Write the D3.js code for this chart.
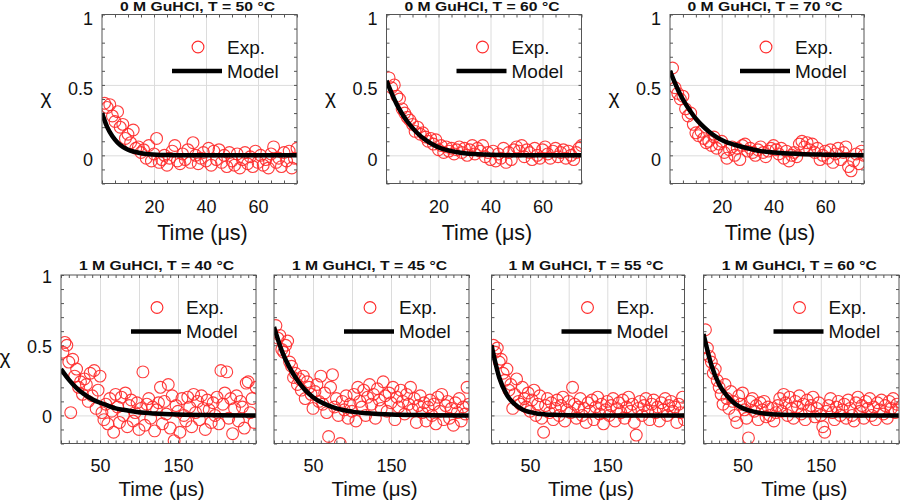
<!DOCTYPE html>
<html>
<head>
<meta charset="utf-8">
<script src="https://cdn.jsdelivr.net/npm/d3@7"></script>
<style>
  html, body { margin: 0; padding: 0; background: #fff; }
  svg { display: block; font-family: "Liberation Sans", Arial, Helvetica, sans-serif; }
</style>
</head>
<body>
<svg id="chart" width="900" height="503"></svg>
<script>
// ---------------- DATA ----------------
const titles = [
  "0 M GuHCl, T = 50 °C", "0 M GuHCl, T = 60 °C", "0 M GuHCl, T = 70 °C",
  "1 M GuHCl, T = 40 °C", "1 M GuHCl, T = 45 °C", "1 M GuHCl, T = 55 °C", "1 M GuHCl, T = 60 °C"
];
const legendLabels = ["Exp.", "Model"];
const xAxisLabel = "Time (\u03BCs)";
const yAxisLabel = "\u03C7";

// sample times (µs)
const timesTop = [1,2,3,4,5,6,7,8,9,10,11,12,13,14,15,16,17,18,19,20,21,22,23,24,25,26,27,28,29,30,
  31,32,33,34,35,36,37,38,39,40,41,42,43,44,45,46,47,48,49,50,51,52,53,54,55,56,57,58,59,60,
  61,62,63,64,65,66,67,68,69,70,71,72,73,74,75];
const timesBottom = [2.5,5,7.5,10,12.5,15,17.5,20,22.5,25,27.5,30,32.5,35,37.5,40,42.5,45,47.5,50,
  52.5,55,57.5,60,62.5,65,67.5,70,72.5,75,77.5,80,82.5,85,87.5,90,92.5,95,97.5,100,
  102.5,105,107.5,110,112.5,115,117.5,120,122.5,125,127.5,130,132.5,135,137.5,140,142.5,145,147.5,150,
  152.5,155,157.5,160,162.5,165,167.5,170,172.5,175,177.5,180,182.5,185,187.5,190,192.5,195,197.5,200,
  202.5,205,207.5,210,212.5,215,217.5,220,222.5,225,227.5,230,232.5,235,237.5,240,242.5,245,247.5,250];

// experimental chi values
const exp0M50 = [0.37,0.34,0.36,0.28,0.24,0.31,0.20,0.22,0.12,0.15,
  0.09,0.18,0.05,0.06,0.02,0.04,-0.02,0.07,-0.04,0.01,
  0.12,-0.05,-0.03,0.00,-0.07,-0.02,0.03,0.07,-0.04,-0.06,
  0.01,-0.03,0.04,-0.05,0.09,0.00,-0.06,-0.02,0.02,-0.04,
  0.05,-0.07,0.03,-0.03,0.04,-0.05,0.00,-0.08,0.02,-0.04,
  -0.07,0.01,-0.09,-0.03,0.02,-0.06,-0.01,-0.08,0.03,-0.05,
  0.00,-0.07,-0.03,-0.09,0.01,0.06,-0.05,-0.02,-0.08,0.02,
  -0.04,0.03,-0.09,-0.02,0.05];
const exp0M60 = [0.55,0.48,0.50,0.42,0.40,0.33,0.30,0.27,0.25,0.22,
  0.17,0.20,0.15,0.16,0.13,0.10,0.12,0.08,0.11,0.04,
  0.07,0.02,0.06,0.03,0.05,0.01,0.04,0.06,0.02,0.05,
  0.00,0.04,0.07,0.01,0.05,0.03,0.07,-0.01,0.02,-0.03,
  0.03,-0.04,0.01,-0.02,0.05,-0.05,0.02,-0.03,0.04,0.06,
  0.03,0.07,-0.01,0.04,0.02,-0.03,0.05,0.00,-0.02,0.04,
  0.06,0.01,-0.02,0.03,0.05,-0.01,0.02,0.04,-0.02,0.03,
  0.00,-0.03,0.02,0.05,0.07];
const exp0M70 = [0.62,0.48,0.44,0.40,0.42,0.33,0.28,0.30,0.22,0.16,
  0.14,0.17,0.12,0.09,0.10,0.07,0.13,0.05,0.08,0.10,
  0.02,-0.02,0.04,0.06,0.00,0.05,-0.03,0.07,0.08,0.03,
  0.05,0.02,0.00,0.04,0.06,0.02,-0.01,0.03,0.05,0.07,
  0.04,0.01,0.05,-0.02,0.03,-0.04,0.00,0.02,-0.01,0.08,
  0.10,0.06,0.09,0.04,0.08,0.02,0.05,-0.03,0.00,0.03,
  -0.02,0.04,-0.05,0.01,0.05,-0.03,0.02,0.06,-0.08,-0.11,
  -0.04,0.01,-0.06,0.03,0.00];
const exp1M40 = [0.45,0.52,0.50,0.38,0.02,0.40,0.28,0.33,0.20,0.24,
  0.15,0.26,0.22,0.10,0.30,0.14,0.32,0.05,0.18,0.28,
  0.02,-0.03,0.08,-0.06,0.12,0.03,-0.12,0.15,0.06,-0.05,
  0.13,0.00,0.16,-0.08,0.07,0.11,-0.04,0.02,0.09,-0.10,
  0.05,0.31,-0.07,0.08,0.12,-0.02,0.06,-0.11,0.04,0.09,
  0.20,-0.06,0.10,0.01,0.22,-0.09,0.14,-0.18,0.07,0.03,
  -0.12,0.12,0.00,-0.04,0.13,0.06,-0.08,0.15,0.02,0.10,
  -0.03,0.14,0.05,-0.10,0.11,0.04,-0.05,0.09,0.00,0.13,
  -0.06,0.32,0.08,0.16,0.31,-0.02,0.12,-0.13,0.05,0.14,
  -0.04,0.10,0.06,-0.09,0.23,0.24,0.02,0.12,-0.05,0.20];
const exp1M45 = [0.64,0.55,0.57,0.47,0.45,0.50,0.53,0.38,0.35,0.27,
  0.30,0.22,0.26,0.18,0.28,0.12,0.24,0.20,0.15,0.05,
  0.17,0.22,0.10,0.28,0.08,0.16,0.02,-0.15,0.20,0.29,
  0.06,0.12,0.00,-0.20,0.10,0.04,0.14,-0.02,0.08,0.03,
  0.15,-0.04,0.20,0.10,0.06,0.18,0.00,0.13,0.22,0.08,
  0.15,-0.02,0.19,0.11,0.05,0.24,0.14,0.03,0.16,0.09,
  0.20,-0.03,0.13,0.06,0.18,0.10,0.01,0.15,0.08,0.20,
  0.04,0.12,-0.05,0.07,0.14,0.02,0.09,-0.04,0.06,0.11,
  0.00,0.08,-0.06,0.13,0.03,0.15,-0.03,0.07,0.10,-0.02,
  0.05,-0.07,0.09,0.02,0.12,-0.04,0.06,0.01,0.20,0.08];
const exp1M55 = [0.50,0.45,0.48,0.38,0.40,0.30,0.25,0.33,0.18,0.22,
  0.05,0.15,0.26,0.10,0.08,0.20,0.12,0.06,0.16,0.03,
  0.11,0.18,0.00,0.08,0.14,-0.02,-0.12,0.07,0.12,0.02,
  0.09,-0.03,0.05,0.11,0.00,0.07,0.13,-0.04,0.04,0.10,
  0.02,0.20,0.08,-0.02,0.06,0.12,0.00,0.05,-0.05,0.09,
  0.03,0.11,-0.03,0.06,0.13,0.01,0.08,-0.06,0.04,0.10,
  0.00,0.07,0.12,-0.04,0.05,0.09,0.02,0.11,-0.02,0.06,
  0.13,0.03,0.08,-0.05,-0.14,0.05,0.10,0.00,0.07,0.12,
  0.03,-0.03,0.08,0.11,0.02,0.06,-0.04,0.09,0.04,0.12,
  0.00,0.07,0.10,0.03,0.06,-0.05,0.08,0.02,0.13,-0.03];
const exp1M60 = [0.61,0.48,0.42,0.38,0.30,0.33,0.25,0.20,0.15,0.08,
  0.22,0.12,0.05,0.17,0.10,0.00,-0.05,0.14,0.08,0.16,
  0.04,-0.02,-0.16,0.10,0.12,0.03,0.07,-0.03,0.09,0.04,
  0.10,-0.01,0.06,0.00,0.05,-0.04,0.02,0.07,0.12,0.03,
  0.15,0.09,0.00,0.13,0.05,-0.02,0.10,0.06,0.14,0.01,
  0.08,-0.03,0.11,0.04,0.07,0.13,-0.01,0.05,0.09,0.00,
  -0.08,-0.12,0.03,0.07,0.12,0.02,-0.03,0.06,0.10,0.00,
  0.04,0.08,-0.02,0.11,0.05,0.00,-0.04,0.09,0.13,0.03,
  0.07,-0.02,0.10,0.05,0.12,0.00,0.06,-0.03,0.09,0.04,
  0.11,0.01,0.07,-0.02,0.10,0.05,0.12,0.02,0.08,0.04];
const expSeries = [exp0M50, exp0M60, exp0M70, exp1M40, exp1M45, exp1M55, exp1M60];

// model curves
const modelTimesTop = [0,2,4,6,8,10,12,15,18,21,25,30,35,40,50,60,75];
const modelTimesBottom = [0,10,20,30,40,50,60,70,80,100,120,150,200,250];
const model0M50 = [0.30,0.20,0.135,0.09,0.06,0.04,0.027,0.015,0.008,0.004,0.002,0.001,0,0,0,0,0];
const model0M60 = [0.53,0.44,0.36,0.295,0.24,0.195,0.155,0.11,0.075,0.05,0.03,0.015,0.008,0.004,0.001,0,0];
const model0M70 = [0.60,0.51,0.43,0.365,0.31,0.26,0.22,0.17,0.13,0.10,0.075,0.05,0.03,0.02,0.01,0.005,0];
const model1M40 = [0.33,0.255,0.195,0.15,0.115,0.09,0.07,0.05,0.04,0.022,0.013,0.006,0.002,0];
const model1M45 = [0.63,0.46,0.34,0.25,0.18,0.13,0.095,0.07,0.05,0.027,0.015,0.006,0.002,0];
const model1M55 = [0.50,0.27,0.145,0.08,0.042,0.023,0.012,0.007,0.004,0.001,0,0,0,0];
const model1M60 = [0.58,0.36,0.22,0.14,0.085,0.052,0.032,0.02,0.012,0.005,0.002,0.001,0,0];
const modelSeries = [model0M50, model0M60, model0M70, model1M40, model1M45, model1M55, model1M60];

// axis ticks
const yDomain = [-0.2, 1];
const yTickLabels = [0, 0.5, 1];
const yMinorTicks = [-0.2,-0.1,0,0.1,0.2,0.3,0.4,0.5,0.6,0.7,0.8,0.9,1];
const xDomainTop = [0, 75];
const xTickLabelsTop = [20, 40, 60];
const xGridTop = [20, 40, 60];
const xMinorTop = [0,5,10,15,20,25,30,35,40,45,50,55,60,65,70,75];
const xDomainBottom = [0, 250];
const xTickLabelsBottom = [50, 150];
const xGridBottom = [50, 100, 150, 200];
const xMinorBottom = [0,10,20,30,40,50,60,70,80,90,100,110,120,130,140,150,160,170,180,190,200,210,220,230,240,250];

// ---------------- LAYOUT ----------------
const panels = [
  {x: 102,   y: 14.5, w: 195,   h: 169,   row: 0, yLabels: true},
  {x: 386.5, y: 14.5, w: 195,   h: 169,   row: 0, yLabels: true},
  {x: 670,   y: 14.5, w: 194,   h: 169,   row: 0, yLabels: true},
  {x: 61,    y: 275,  w: 195,   h: 168.5, row: 1, yLabels: true},
  {x: 274,   y: 275,  w: 195,   h: 168.5, row: 1, yLabels: false},
  {x: 491.5, y: 275,  w: 193,   h: 168.5, row: 1, yLabels: false},
  {x: 703.5, y: 275,  w: 195.5, h: 168.5, row: 1, yLabels: false}
];

const svg = d3.select("#chart");
const defs = svg.append("defs");
const RED = "#ff2a2a";
const R = 5.9;

panels.forEach((p, i) => {
  const top = p.row === 0;
  const times = top ? timesTop : timesBottom;
  const mTimes = top ? modelTimesTop : modelTimesBottom;
  const x = d3.scaleLinear().domain(top ? xDomainTop : xDomainBottom).range([0, p.w]);
  const y = d3.scaleLinear().domain(yDomain).range([p.h, 0]);
  const g = svg.append("g").attr("transform", `translate(${p.x},${p.y})`);

  defs.append("clipPath").attr("id", "clip" + i)
    .append("rect").attr("x", 0).attr("y", 0).attr("width", p.w).attr("height", p.h);

  // grid
  const gx = g.append("g").attr("transform", `translate(0,${p.h})`)
    .call(d3.axisBottom(x).tickValues(top ? xGridTop : xGridBottom).tickSize(-p.h).tickFormat(""));
  const gy = g.append("g")
    .call(d3.axisLeft(y).tickValues([0, 0.5]).tickSize(-p.w).tickFormat(""));
  [gx, gy].forEach(a => {
    a.select(".domain").remove();
    a.selectAll("line").attr("stroke", "#dcdcdc").attr("stroke-width", 1);
  });

  // minor ticks (inward, all four sides)
  const minorX = top ? xMinorTop : xMinorBottom;
  const tickStyle = a => {
    a.select(".domain").remove();
    a.selectAll("line").attr("stroke", "#555").attr("stroke-width", 1);
  };
  g.append("g").attr("transform", `translate(0,${p.h})`)
    .call(d3.axisBottom(x).tickValues(minorX).tickSize(-3).tickFormat("")).call(tickStyle);
  g.append("g")
    .call(d3.axisTop(x).tickValues(minorX).tickSize(-3).tickFormat("")).call(tickStyle);
  g.append("g")
    .call(d3.axisLeft(y).tickValues(yMinorTicks).tickSize(-3).tickFormat("")).call(tickStyle);
  g.append("g").attr("transform", `translate(${p.w},0)`)
    .call(d3.axisRight(y).tickValues(yMinorTicks).tickSize(-3).tickFormat("")).call(tickStyle);

  // data
  const plot = g.append("g").attr("clip-path", `url(#clip${i})`);
  const pts = d3.zip(times, expSeries[i]);
  plot.selectAll("circle").data(pts).enter().append("circle")
    .attr("cx", d => x(d[0])).attr("cy", d => y(d[1])).attr("r", R)
    .attr("fill", "none").attr("stroke", RED).attr("stroke-width", 1.15).attr("stroke-opacity", 0.9);
  const line = d3.line().x(d => x(d[0])).y(d => y(d[1])).curve(d3.curveMonotoneX);
  plot.append("path").datum(d3.zip(mTimes, modelSeries[i]))
    .attr("d", line).attr("fill", "none").attr("stroke", "#000").attr("stroke-width", 4.5);

  // box
  g.append("rect").attr("x", 0).attr("y", 0).attr("width", p.w).attr("height", p.h)
    .attr("fill", "none").attr("stroke", "#555").attr("stroke-width", 1);

  // x tick labels
  const xl = g.append("g").attr("transform", `translate(0,${p.h})`)
    .call(d3.axisBottom(x).tickValues(top ? xTickLabelsTop : xTickLabelsBottom).tickSize(0).tickPadding(top ? 16.5 : 15.5).tickFormat(d3.format("d")));
  xl.select(".domain").remove();
  xl.selectAll("text").attr("font-size", 18).attr("fill", "#111")
    .attr("font-family", "'Liberation Sans', Arial, sans-serif");

  // y tick labels
  if (p.yLabels) {
    const yl = g.append("g")
      .call(d3.axisLeft(y).tickValues(yTickLabels).tickSize(0).tickPadding(9).tickFormat(d => d === 0.5 ? "0.5" : String(d)));
    yl.select(".domain").remove();
    yl.selectAll("text").attr("font-size", 18).attr("fill", "#111")
      .attr("font-family", "'Liberation Sans', Arial, sans-serif")
      .attr("dy", top ? "0.55em" : "0.4em");
    g.append("text").attr("x", -56).attr("y", y(0.4) + 5)
      .attr("text-anchor", "middle").attr("font-size", 21).attr("fill", "#111")
      .text(yAxisLabel);
  }

  // x axis label
  g.append("text").attr("x", p.w / 2 + 3).attr("y", p.h + (top ? 56 : 52))
    .attr("text-anchor", "middle").attr("font-size", top ? 21.5 : 20.5).attr("fill", "#111")
    .text(xAxisLabel);

  // title
  g.append("text").attr("x", p.w / 2 - 2).attr("y", top ? -3.5 : -5)
    .attr("text-anchor", "middle").attr("font-size", 12.2).attr("font-weight", "bold")
    .attr("fill", "#111").attr("textLength", 155).attr("lengthAdjust", "spacingAndGlyphs")
    .text(titles[i]);

  // legend
  const lg = g.append("g");
  lg.append("circle").attr("cx", 96).attr("cy", 32.5).attr("r", R)
    .attr("fill", "none").attr("stroke", RED).attr("stroke-width", 1.15);
  lg.append("text").attr("x", 125).attr("y", 39).attr("font-size", 19).attr("fill", "#111").text(legendLabels[0]);
  lg.append("line").attr("x1", 70).attr("x2", 120).attr("y1", 56.5).attr("y2", 56.5)
    .attr("stroke", "#000").attr("stroke-width", 4.5);
  lg.append("text").attr("x", 125).attr("y", 63).attr("font-size", 19).attr("fill", "#111").text(legendLabels[1]);
});
</script>
</body>
</html>
